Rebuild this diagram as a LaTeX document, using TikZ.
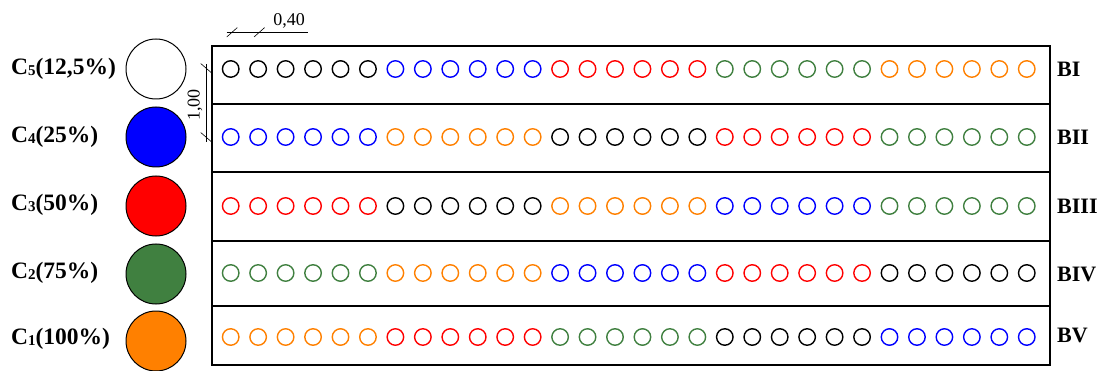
\documentclass[tikz,border=0pt]{standalone}
\usepackage{fontspec}
\setmainfont{Liberation Serif}
\definecolor{cblack}{RGB}{0,0,0}
\definecolor{cblue}{RGB}{0,0,255}
\definecolor{cred}{RGB}{255,0,0}
\definecolor{cgreen}{RGB}{64,128,64}
\definecolor{corange}{RGB}{255,128,0}
\begin{document}
\begin{tikzpicture}[x=1pt,y=-1pt,
  pile/.style={circle, draw=#1, line width=1.4pt, minimum size=16.5pt, inner sep=0pt},
  legendc/.style={circle, draw=black, fill=#1, line width=1pt, minimum size=60pt, inner sep=0pt},
  leglab/.style={font=\fontsize{23.5}{23.5}\selectfont\bfseries, anchor=west, inner sep=0pt},
  rowlab/.style={font=\fontsize{22}{22}\selectfont\bfseries, anchor=west, inner sep=0pt},
  dimlab/.style={font=\fontsize{18}{18}\selectfont, inner sep=0pt},
  frame/.style={draw=black, line width=1.4pt},
  dimline/.style={draw=black, line width=0.6pt}]
\useasboundingbox (0,0) rectangle (1102,371);

% frames
\draw[frame] (212,46) rectangle (1050,365);
\foreach \yy in {104,172,241,306} \draw[frame] (212,\yy) -- (1050,\yy);

% rows of circles
\foreach \r/\seq/\yy in {1/{cblack,cblue,cred,cgreen,corange}/69,
                         2/{cblue,corange,cblack,cred,cgreen}/137,
                         3/{cred,cblack,corange,cblue,cgreen}/206,
                         4/{cgreen,corange,cblue,cred,cblack}/273,
                         5/{corange,cred,cgreen,cblack,cblue}/337}{
  \foreach \c [count=\g from 0] in \seq {
    \foreach \k in {0,...,5}{
      \pgfmathtruncatemacro{\n}{\g*6+\k+1}
      \node[pile=\c] (p\r-\n) at ({230.7+27.45*(\g*6+\k)},\yy) {};
    }
  }
}

% row labels
\node[rowlab] (bI) at (1057,69) {BI};
\node[rowlab] (bII) at (1057,137) {BII};
\node[rowlab] (bIII) at (1057,206) {BIII};
\node[rowlab] (bIV) at (1057,274) {BIV};
\node[rowlab] (bV) at (1057,335) {BV};

% legend
\newcommand{\subd}[1]{\raisebox{-1pt}{\fontsize{15}{15}\selectfont #1}}
\node[legendc=white]   (l5) at (156,69)  {};
\node[legendc=cblue]   (l4) at (156,137) {};
\node[legendc=cred]    (l3) at (156,206) {};
\node[legendc=cgreen]  (l2) at (156,274) {};
\node[legendc=corange] (l1) at (156,341) {};
\node[leglab] (t5) at (11,69)  {C\subd{5}(12,5\%)};
\node[leglab] (t4) at (11,137) {C\subd{4}(25\%)};
\node[leglab] (t3) at (11,205) {C\subd{3}(50\%)};
\node[leglab] (t2) at (11,273) {C\subd{2}(75\%)};
\node[leglab] (t1) at (11,339) {C\subd{1}(100\%)};

% horizontal dimension
\coordinate (h0) at (226.7,32.3);
\coordinate (h1) at (308,32.3);
\draw[dimline] (h0) -- (h1);
\draw[dimline] (226.7,37) -- (237.3,27.6);
\draw[dimline] (254,37) -- (264.6,27.6);
\node[dimlab, anchor=south] (d1) at (289,28.5) {0,40};

% vertical dimension
\coordinate (v0) at (206,64);
\coordinate (v1) at (206,142);
\draw[dimline] (v0) -- (v1);
\draw[dimline] (200.7,63.5) -- (211.7,73);
\draw[dimline] (200.7,132.5) -- (211.7,142);
\node[dimlab, rotate=90, anchor=south] (d2) at (202.5,105) {1,00};
\end{tikzpicture}
\end{document}
